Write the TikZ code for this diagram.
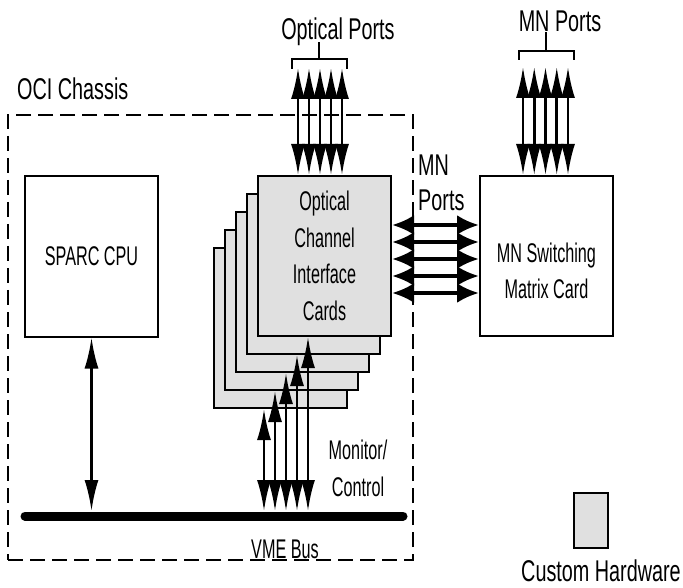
\documentclass[tikz,border=0pt]{standalone}
\usepackage{fontspec}
\setmainfont{Liberation Sans}
\newfontfamily\lblfamily{Liberation Sans}[FakeStretch=0.66]
\newfontfamily\cardfamily{Liberation Sans}[FakeStretch=0.6]
\usetikzlibrary{arrows.meta,positioning}
\definecolor{cardgray}{gray}{0.88}
\newcommand{\lblfnt}{\lblfamily\fontsize{30}{35}\selectfont}
\newcommand{\cardfnt}{\cardfamily\fontsize{27}{36.5}\selectfont}

\begin{document}
\begin{tikzpicture}[
  x=1pt, y=-1pt,
  box/.style={draw, line width=2pt, minimum width=133pt, minimum height=160pt, inner sep=0pt, align=center, font=\cardfnt},
  card/.style={box, fill=cardgray},
  chassis/.style={draw, line width=1.8pt, dash pattern=on 15pt off 7pt, minimum width=405pt, minimum height=445pt},
  lbl/.style={inner sep=0pt, font=\lblfnt},
  txt/.style={inner sep=0pt, align=center, font=\cardfnt},
  varr/.style={{Latex[length=31pt,width=14pt]}-{Latex[length=31pt,width=14pt]}, line width=2.6pt},
  harr/.style={{Latex[length=22pt,width=20pt]}-{Latex[length=22pt,width=20pt]}, line width=3.8pt},
  brk/.style={line width=2pt}
]
\useasboundingbox (0,0) rectangle (683,588);

% chassis and its boards
\node[chassis] (chassis) at (210.5,337.5) {};
\node[lbl, anchor=base west] (ocilbl) at (17,100) {OCI Chassis};
\node[box] (sparc) at (91.5,256.5) {SPARC CPU};
\foreach \i in {5,4,3,2}
  \node[card] (card\i) at ({324.5-11*(\i-1)},{256+18*(\i-1)}) {};
\node[card] (card1) at (324.5,256) {Optical\\Channel\\Interface\\Cards};
\node[box] (mn) at (546.5,256) {};
\node[txt] (mntxt) at ([yshift=-15pt]mn.center) {MN Switching\\Matrix Card};

% VME bus
\coordinate (busL) at (25,516);
\coordinate (busR) at (403,516);
\coordinate (bustop) at (25,511);
\draw[line width=9pt, line cap=round] (busL) -- (busR);
\node[txt, anchor=base] (vmelbl) at (285,558) {VME Bus};
\draw[varr] (sparc.south) -- (sparc.south |- bustop);
\foreach \i in {1,...,5} {
  \coordinate (mc\i) at ({308-11*(\i-1)},511);
  \draw[varr] (mc\i) -- (mc\i |- card\i.south);
}
\node[txt, anchor=north] (monlbl) at (358,440) {Monitor/\\Control};

% optical ports
\node[lbl, anchor=base] (optlbl) at (338,40) {Optical Ports};
\draw[brk] (292,69) -- (292,59) -- (347,59) -- (347,69) (319,59) -- (319,42);
\foreach \i in {1,...,5} {
  \coordinate (op\i) at ({298+11*(\i-1)},68);
  \draw[varr] (op\i) -- (op\i |- card1.north);
}

% MN ports
\node[lbl, anchor=base] (mnlbl) at (560,32) {MN Ports};
\draw[brk] (519,60) -- (519,51) -- (574,51) -- (574,60) (546,51) -- (546,32);
\foreach \i in {1,...,5} {
  \coordinate (mp\i) at ({523+11.25*(\i-1)},67);
  \draw[varr] (mp\i) -- (mp\i |- mn.north);
}
\node[lbl, align=left, anchor=north west] (mnportlbl) at (418,155) {MN\\Ports};
\foreach \i in {1,...,5} {
  \coordinate (mr\i) at (435,{225+17*(\i-1)});
  \draw[harr] (card1.east |- mr\i) -- (mn.west |- mr\i);
}

% legend
\node[card, minimum width=34pt, minimum height=55pt] (custom) at (591,520.5) {};
\node[lbl, anchor=base] (customlbl) at (601,581) {Custom Hardware};
\end{tikzpicture}
\end{document}
